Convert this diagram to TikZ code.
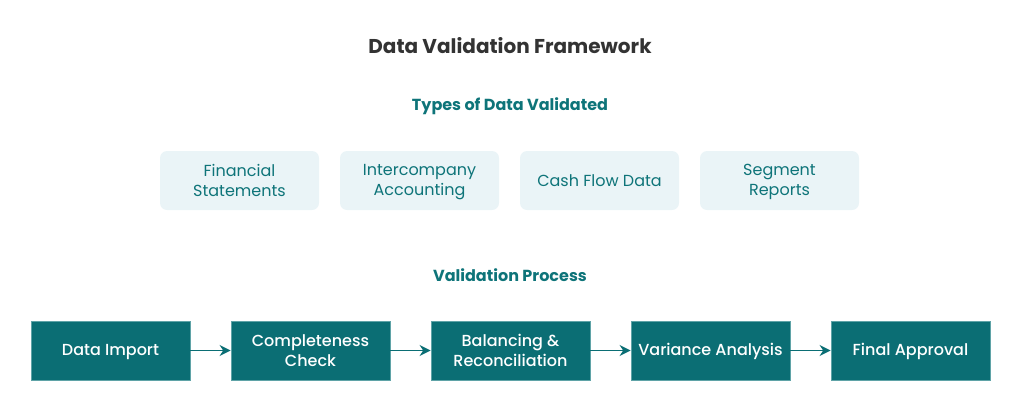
\documentclass[tikz,border=0pt]{standalone}
\usepackage{fontspec}
\setmainfont{Poppins}
\usetikzlibrary{arrows.meta}
\definecolor{teal1}{HTML}{0B6E74}
\definecolor{tealtxt}{HTML}{0E7479}
\definecolor{lightbg}{HTML}{EAF4F7}
\definecolor{titlec}{HTML}{333333}
\definecolor{edgec}{HTML}{5FA3A7}
\newcommand{\ls}{\vrule width 0pt height 14pt depth 2pt\relax}
\tikzset{
  typebox/.style={fill=lightbg, rounded corners=7pt, minimum width=159pt, minimum height=59pt, text=tealtxt, align=center, font=\fontsize{16}{20}\selectfont, inner sep=0pt},
  procbox/.style={fill=teal1, draw=edgec, line width=0.8pt, minimum width=159pt, minimum height=59pt, text=white, align=center, font=\fontsize{16}{20}\selectfont\fontspec{Poppins Medium}, inner sep=0pt},
  flow/.style={draw=teal1, line width=1.6pt, -{Stealth[length=11pt,width=11pt]}},
  heading/.style={text=tealtxt, font=\fontsize{16}{19}\selectfont\bfseries}
}
\begin{document}
\begin{tikzpicture}[x=1pt,y=-1pt]
\useasboundingbox (0,0) rectangle (1020,410);
\node[text=titlec, font=\fontsize{20}{24}\selectfont\bfseries] (title) at (510,46) {Data Validation Framework};
\node[heading] (types) at (510,106.5) {Types of Data Validated};
\node[typebox] (fs) at (239.5,180.5) {\ls Financial\\\ls Statements};
\node[typebox] (ic) at (419.5,180.5) {\ls Intercompany\\\ls Accounting};
\node[typebox] (cf) at (599.5,180.5) {\ls Cash Flow Data};
\node[typebox] (sr) at (779.5,180.5) {\ls Segment\\\ls Reports};
\node[heading] (proc) at (510,275.5) {Validation Process};
\node[procbox] (p1) at (110.5,350.5) {\ls Data Import};
\node[procbox] (p2) at (310.5,350.5) {\ls Completeness\\\ls Check};
\node[procbox] (p3) at (510.5,350.5) {\ls Balancing \&\\\ls Reconciliation};
\node[procbox] (p4) at (710.5,350.5) {\ls Variance Analysis};
\node[procbox] (p5) at (910.5,350.5) {\ls Final Approval};
\draw[flow] (p1) -- (p2);
\draw[flow] (p2) -- (p3);
\draw[flow] (p3) -- (p4);
\draw[flow] (p4) -- (p5);
\end{tikzpicture}
\end{document}
